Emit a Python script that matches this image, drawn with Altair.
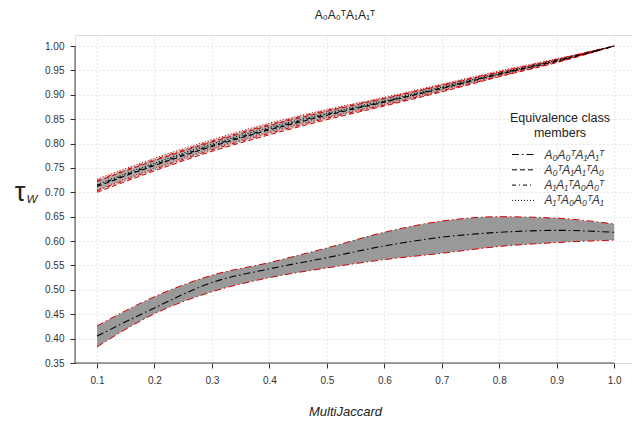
import altair as alt
import pandas as pd

# ---- data ----
x_vals = [0.1, 0.2, 0.3, 0.4, 0.5, 0.6, 0.7, 0.8, 0.9, 1.0]

series_names = ["A₀A₀ᵀA₁A₁ᵀ", "A₀ᵀA₁A₁ᵀA₀", "A₁A₁ᵀA₀A₀ᵀ", "A₁ᵀA₀A₀ᵀA₁"]

s1_mid = [0.405, 0.463, 0.515, 0.543, 0.566, 0.590, 0.608, 0.618, 0.622, 0.618]
s1_lo  = [0.383, 0.451, 0.496, 0.525, 0.545, 0.562, 0.575, 0.589, 0.597, 0.602]
s1_hi  = [0.426, 0.486, 0.530, 0.556, 0.586, 0.618, 0.641, 0.650, 0.647, 0.635]

s2_mid = [0.712, 0.755, 0.794, 0.828, 0.858, 0.885, 0.913, 0.942, 0.969, 1.000]
s2_lo  = [0.700, 0.744, 0.784, 0.818, 0.849, 0.877, 0.906, 0.937, 0.966, 1.000]
s2_hi  = [0.722, 0.765, 0.803, 0.837, 0.866, 0.892, 0.919, 0.946, 0.972, 1.000]

s3_mid = [0.714, 0.757, 0.796, 0.830, 0.860, 0.886, 0.914, 0.943, 0.970, 1.000]
s3_lo  = [0.703, 0.747, 0.787, 0.821, 0.852, 0.879, 0.908, 0.938, 0.967, 1.000]
s3_hi  = [0.724, 0.767, 0.805, 0.839, 0.868, 0.893, 0.920, 0.947, 0.973, 1.000]

s4_mid = [0.716, 0.760, 0.799, 0.833, 0.862, 0.888, 0.916, 0.944, 0.971, 1.000]
s4_lo  = [0.705, 0.750, 0.790, 0.824, 0.854, 0.881, 0.910, 0.940, 0.968, 1.000]
s4_hi  = [0.727, 0.770, 0.808, 0.842, 0.870, 0.895, 0.922, 0.949, 0.974, 1.000]

x_ticks = [0.1, 0.2, 0.3, 0.4, 0.5, 0.6, 0.7, 0.8, 0.9, 1.0]
y_ticks = [0.35, 0.40, 0.45, 0.50, 0.55, 0.60, 0.65, 0.70, 0.75, 0.80, 0.85, 0.90, 0.95, 1.00]

chart_title = "A₀A₀ᵀA₁A₁ᵀ"
x_title = "MultiJaccard"
legend_title = ["Equivalence class", "members"]

# ---- build table ----
rows = []
for name, mid, lo, hi in [
    (series_names[0], s1_mid, s1_lo, s1_hi),
    (series_names[1], s2_mid, s2_lo, s2_hi),
    (series_names[2], s3_mid, s3_lo, s3_hi),
    (series_names[3], s4_mid, s4_lo, s4_hi),
]:
    for xv, m, l, h in zip(x_vals, mid, lo, hi):
        rows.append({"x": xv, "mid": m, "lo": l, "hi": h, "series": name})
df = pd.DataFrame(rows)

FONT = "Liberation Sans"
W, H = 557, 328

xscale = alt.Scale(domain=[0.0617, 1.031], nice=False, zero=False)
yscale = alt.Scale(domain=[0.35, 1.0226], nice=False, zero=False)

xaxis = alt.Axis(values=x_ticks, format=".1f", grid=True, gridDash=[1, 3],
                 gridColor="#cfcfcf", domain=False, tickColor="#333333",
                 tickSize=5, labelFontSize=10, labelColor="#333333",
                 labelFont=FONT, labelPadding=7, labelOverlap=False,
                 title=x_title,
                 titleFont=FONT, titleFontSize=13, titleFontStyle="italic",
                 titleFontWeight="normal", titleColor="#222222",
                 titleX=270, titleY=48, titleBaseline="middle")
yaxis = alt.Axis(values=y_ticks, format=".2f", grid=True, gridDash=[1, 3],
                 gridColor="#cfcfcf", domain=False, tickColor="#333333",
                 tickSize=5, labelFontSize=10, labelColor="#333333",
                 labelFont=FONT, labelPadding=6, labelOverlap=False,
                 title=None)

X = alt.X("x:Q", scale=xscale, axis=xaxis)

dash_scale = alt.Scale(domain=series_names,
                       range=[[7, 3, 1.5, 3], [5, 3], [4, 3, 1, 3], [1, 2]])
legend = alt.Legend(title=legend_title, orient="none", legendX=435, legendY=77,
                    titleFont=FONT, titleFontSize=12.5, titleFontWeight="normal",
                    titleColor="#222222", titleAnchor="middle", titleAlign="center",
                    titleLineHeight=15, titlePadding=9,
                    labelFont=FONT, labelFontSize=12, labelFontStyle="italic",
                    labelColor="#333333", labelOffset=15.5,
                    symbolType="M-2,0L2,0", symbolSize=121, symbolStrokeColor="black",
                    symbolFillColor="transparent",
                    symbolStrokeWidth=1, rowPadding=3.3)
SD = alt.StrokeDash("series:N", scale=dash_scale, legend=legend)

base = alt.Chart(df)

area_low = base.transform_filter(alt.datum.series == series_names[0]).mark_area(
    interpolate="monotone", color="#999999", opacity=1
).encode(x=X, y=alt.Y("lo:Q", scale=yscale, axis=yaxis), y2="hi:Q", detail="series:N")

area_up = base.transform_filter(alt.datum.series != series_names[0]).mark_area(
    interpolate="monotone", color="#999999", opacity=0.4
).encode(x=X, y=alt.Y("lo:Q", scale=yscale, axis=yaxis), y2="hi:Q", detail="series:N")

red_lo = base.mark_line(interpolate="monotone", color="#d40000", strokeWidth=1).encode(
    x=X, y=alt.Y("lo:Q", scale=yscale, axis=yaxis), strokeDash=SD)
red_hi = base.mark_line(interpolate="monotone", color="#d40000", strokeWidth=1).encode(
    x=X, y=alt.Y("hi:Q", scale=yscale, axis=yaxis), strokeDash=SD)
mid_line = base.mark_line(interpolate="monotone", color="black", strokeWidth=1.1).encode(
    x=X, y=alt.Y("mid:Q", scale=yscale, axis=yaxis), strokeDash=SD)

one = pd.DataFrame({"k": [0]})
yaxis_line = alt.Chart(one).mark_rule(color="#444444", strokeWidth=1).encode(
    x=alt.value(0),
    y=alt.Y(datum=0.35, scale=yscale, axis=yaxis),
    y2=alt.Y2(datum=1.0))
xaxis_line = alt.Chart(one).mark_rule(color="#444444", strokeWidth=1).encode(
    x=alt.X(datum=0.0617, scale=xscale, axis=xaxis),
    x2=alt.X2(datum=1.0),
    y=alt.value(H))

title_txt = alt.Chart(one).mark_text(text=chart_title, font=FONT, fontSize=12,
                                     color="#222222").encode(
    x=alt.value(270), y=alt.value(-20))
tau_txt = alt.Chart(one).mark_text(text="τ", font=FONT, fontSize=27,
                                   color="#222222").encode(
    x=alt.value(-55), y=alt.value(158))
w_txt = alt.Chart(one).mark_text(text="W", font=FONT, fontSize=11.5, fontStyle="italic",
                                 color="#222222").encode(
    x=alt.value(-43), y=alt.value(165))

chart = alt.layer(area_low, area_up, red_lo, red_hi, mid_line,
                  yaxis_line, xaxis_line, title_txt, tau_txt, w_txt).properties(
    width=W, height=H,
    padding={"left": 75, "top": 35, "right": 0, "bottom": 63},
    autosize=alt.AutoSizeParams(type="none"),
).configure_view(stroke=None).configure_axis(labelOverlap=False).configure(
    background="white")

chart.save("out.html", embed_options={"renderer": "svg", "actions": False})
